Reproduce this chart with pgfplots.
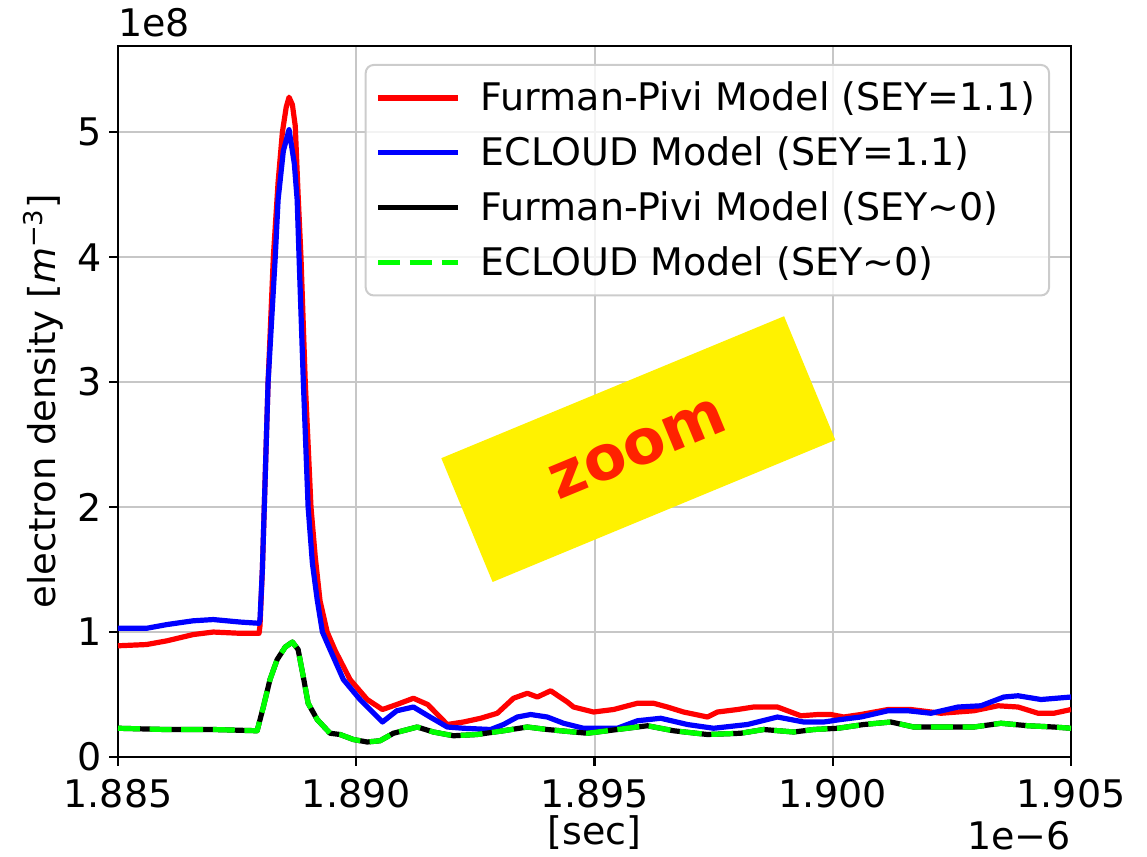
\documentclass[border=0pt]{standalone}
\usepackage{fontspec}
\setmainfont{DejaVu Sans}
\usepackage{pgfplots}
\pgfplotsset{compat=1.18}
\definecolor{zoomred}{HTML}{FF2200}
\definecolor{lime}{rgb}{0,1,0}
\begin{document}
\begin{tikzpicture}
\begin{axis}[
  scale only axis,
  width=476.5pt, height=355.5pt,
  xmin=1.885, xmax=1.905, ymin=0, ymax=5.69,
  scaled ticks=false,
  xtick={1.885,1.890,1.895,1.900,1.905},
  ytick={0,1,2,3,4,5},
  tick pos=left,
  tick align=outside,
  major tick length=4.5pt,
  every tick/.style={black, line width=1.2pt},
  axis line style={line width=1.2pt},
  grid=major,
  major grid style={color=black!22, line width=1pt},
  /pgf/number format/assume math mode=true,
  xticklabel style={yshift=-3pt, /pgf/number format/.cd, fixed, fixed zerofill, precision=3},
  ticklabel style={font=\fontsize{19}{22.8}\selectfont},
  every axis y label/.style={at={(axis description cs:-0.0787,0.5)}, rotate=90, anchor=center, font=\fontsize{18.5}{22}\selectfont},
  every axis x label/.style={at={(axis description cs:0.5,-0.106)}, anchor=center, font=\fontsize{19}{22.8}\selectfont},
  ylabel={electron density [\textit{m}\textsuperscript{−3}]},
  xlabel={[sec]},
  legend cell align=left,
  legend image code/.code={\draw[#1] (0pt,0pt) -- (40pt,0pt);},
  legend style={at={(axis description cs:0.978,0.9747)}, anchor=north east,
    draw=black!20, line width=1pt, rounded corners=4pt, fill=white, fill opacity=0.8, text opacity=1, draw opacity=1,
    font=\fontsize{19}{22.8}\selectfont, inner xsep=5pt, inner ysep=6.5pt, row sep=7.5pt,
    /tikz/every odd column/.append style={column sep=8pt}},
  every axis plot/.append style={line width=2.6pt, line join=round},
]
\addplot[red] coordinates {
(1.88500,0.89) (1.88560,0.90) (1.88603,0.93) (1.88658,0.98) (1.88700,1.00) (1.88756,0.99) (1.88796,0.99)
(1.88798,1.05) (1.88803,1.5) (1.88807,2.0) (1.88815,3.0) (1.88826,4.0) (1.88836,4.6) (1.88845,5.0)
(1.88853,5.2) (1.88859,5.28) (1.88866,5.22) (1.88872,5.05) (1.88878,4.5) (1.88884,4.0) (1.88893,3.0)
(1.88905,2.0) (1.88914,1.6) (1.88924,1.25) (1.88939,1.0) (1.88956,0.85) (1.88987,0.62) (1.89023,0.46)
(1.89055,0.38) (1.89085,0.42) (1.89120,0.47) (1.89150,0.42) (1.89191,0.26) (1.89225,0.28) (1.89261,0.31)
(1.89296,0.35) (1.89330,0.47) (1.89359,0.51) (1.89380,0.48) (1.89408,0.53) (1.89443,0.44) (1.89456,0.40)
(1.89498,0.36) (1.89540,0.38) (1.89590,0.43) (1.89624,0.43) (1.89653,0.40) (1.89687,0.36) (1.89737,0.32)
(1.89758,0.36) (1.89800,0.38) (1.89834,0.40) (1.89884,0.40) (1.89933,0.33) (1.89969,0.34) (1.89996,0.34)
(1.90023,0.32) (1.90059,0.34) (1.90116,0.38) (1.90164,0.38) (1.90227,0.35) (1.90296,0.37) (1.90347,0.41)
(1.90389,0.40) (1.90431,0.35) (1.90464,0.35) (1.90500,0.38)
};
\addlegendentry{Furman-Pivi Model (SEY=1.1)}
\addplot[blue] coordinates {
(1.88500,1.03) (1.88560,1.03) (1.88603,1.06) (1.88658,1.09) (1.88700,1.10) (1.88756,1.08) (1.88796,1.07)
(1.88798,1.10) (1.88803,1.5) (1.88807,2.0) (1.88815,3.0) (1.88830,4.0) (1.88836,4.46) (1.88847,4.85)
(1.88859,5.02) (1.88870,4.75) (1.88876,4.46) (1.88880,4.0) (1.88889,3.0) (1.88899,2.0) (1.88908,1.55)
(1.88918,1.26) (1.88929,1.0) (1.88945,0.86) (1.88973,0.62) (1.89008,0.46) (1.89055,0.28) (1.89085,0.37)
(1.89120,0.40) (1.89155,0.32) (1.89191,0.24) (1.89225,0.23) (1.89282,0.22) (1.89309,0.26) (1.89338,0.32)
(1.89366,0.34) (1.89401,0.32) (1.89435,0.27) (1.89477,0.23) (1.89506,0.23) (1.89548,0.23) (1.89590,0.29)
(1.89639,0.31) (1.89695,0.26) (1.89750,0.23) (1.89821,0.26) (1.89884,0.32) (1.89939,0.28) (1.89981,0.28)
(1.90017,0.30) (1.90059,0.32) (1.90116,0.37) (1.90158,0.37) (1.90206,0.35) (1.90263,0.40) (1.90311,0.41)
(1.90359,0.48) (1.90389,0.49) (1.90437,0.46) (1.90500,0.48)
};
\addlegendentry{ECLOUD Model (SEY=1.1)}
\addplot[black] coordinates {
(1.88500,0.23) (1.88600,0.22) (1.88700,0.22) (1.88792,0.21) (1.88805,0.40) (1.88819,0.62) (1.88834,0.78)
(1.88851,0.88) (1.88866,0.92) (1.88878,0.86) (1.88889,0.64) (1.88899,0.43) (1.88918,0.30) (1.88945,0.19)
(1.88966,0.18) (1.88994,0.14) (1.89023,0.12) (1.89050,0.13) (1.89078,0.19) (1.89128,0.24) (1.89162,0.20)
(1.89204,0.17) (1.89254,0.18) (1.89309,0.21) (1.89359,0.24) (1.89401,0.22) (1.89485,0.19) (1.89548,0.22)
(1.89611,0.25) (1.89666,0.21) (1.89737,0.18) (1.89807,0.19) (1.89855,0.22) (1.89918,0.20) (1.89960,0.22)
(1.90011,0.23) (1.90065,0.26) (1.90122,0.28) (1.90170,0.24) (1.90233,0.24) (1.90296,0.24) (1.90353,0.27)
(1.90410,0.25) (1.90464,0.24) (1.90500,0.23)
};
\addlegendentry{Furman-Pivi Model (SEY\textasciitilde0)}
\addplot[lime, dash pattern=on 11pt off 4.8pt] coordinates {
(1.88500,0.23) (1.88600,0.22) (1.88700,0.22) (1.88792,0.21) (1.88805,0.40) (1.88819,0.62) (1.88834,0.78)
(1.88851,0.88) (1.88866,0.92) (1.88878,0.86) (1.88889,0.64) (1.88899,0.43) (1.88918,0.30) (1.88945,0.19)
(1.88966,0.18) (1.88994,0.14) (1.89023,0.12) (1.89050,0.13) (1.89078,0.19) (1.89128,0.24) (1.89162,0.20)
(1.89204,0.17) (1.89254,0.18) (1.89309,0.21) (1.89359,0.24) (1.89401,0.22) (1.89485,0.19) (1.89548,0.22)
(1.89611,0.25) (1.89666,0.21) (1.89737,0.18) (1.89807,0.19) (1.89855,0.22) (1.89918,0.20) (1.89960,0.22)
(1.90011,0.23) (1.90065,0.26) (1.90122,0.28) (1.90170,0.24) (1.90233,0.24) (1.90296,0.24) (1.90353,0.27)
(1.90410,0.25) (1.90464,0.24) (1.90500,0.23)
};
\addlegendentry{ECLOUD Model (SEY\textasciitilde0)}
\node[rotate=22.5, fill=yellow, minimum width=185.5pt, minimum height=67pt, text=zoomred,
  font=\fontsize{31}{31}\selectfont\bfseries] at (axis cs:1.89592,2.464) {zoom};
\end{axis}
\node[anchor=base west, inner sep=0pt, font=\fontsize{19}{22.8}\selectfont] at ([yshift=4.5pt]current axis.north west) {1e8};
\node[anchor=base east, inner sep=0pt, font=\fontsize{19}{22.8}\selectfont] at ([yshift=-46.5pt]current axis.south east) {1e−6};
\pgfresetboundingbox
\path[use as bounding box] ([shift={(-59pt,-50pt)}]current axis.south west) rectangle ([shift={(38pt,23pt)}]current axis.north east);
\end{tikzpicture}
\end{document}
